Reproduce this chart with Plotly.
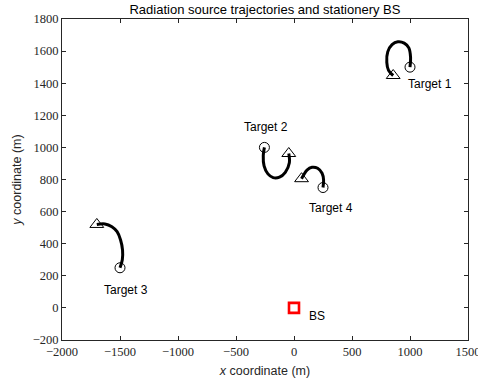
import plotly.graph_objects as go

# Trajectory samples (m) for each radiation source: start -> end
t1_x = [1000, 1005, 990, 950, 895, 845, 808, 800, 815, 855]
t1_y = [1500, 1560, 1620, 1650, 1658, 1640, 1595, 1530, 1480, 1448]

t2_x = [-255, -265, -258, -225, -180, -125, -75, -40, -45]
t2_y = [1000, 950, 885, 835, 812, 815, 845, 905, 962]

t3_x = [-1500, -1480, -1478, -1495, -1525, -1570, -1630, -1700]
t3_y = [250, 300, 360, 423, 475, 506, 523, 520]

t4_x = [250, 255, 242, 204, 155, 112, 83, 65]
t4_y = [750, 797, 839, 870, 876, 859, 828, 805]

trajectories = [(t1_x, t1_y), (t2_x, t2_y), (t3_x, t3_y), (t4_x, t4_y)]

# Base station position
bs_x = [0]
bs_y = [0]

# Text labels and their anchor positions
label_text = ["Target 1", "Target 2", "Target 3", "Target 4", "BS"]
label_x = [965, -445, -1655, 110, 115]
label_y = [1395, 1127, 112, 622, -50]

x_ticks = [-2000, -1500, -1000, -500, 0, 500, 1000, 1500]
y_ticks = [-200, 0, 200, 400, 600, 800, 1000, 1200, 1400, 1600, 1800]

fig = go.Figure()

for tx, ty in trajectories:
    fig.add_trace(go.Scatter(x=tx, y=ty, mode="lines",
                             line=dict(color="black", width=3, shape="spline"),
                             hoverinfo="skip"))
    fig.add_trace(go.Scatter(x=[tx[0]], y=[ty[0]], mode="markers",
                             marker=dict(symbol="circle-open", size=10,
                                         color="black", line=dict(width=1))))
    fig.add_trace(go.Scatter(x=[tx[-1]], y=[ty[-1]], mode="markers",
                             marker=dict(symbol="triangle-up-open", size=12,
                                         color="black", line=dict(width=1))))

fig.add_trace(go.Scatter(x=bs_x, y=bs_y, mode="markers",
                         marker=dict(symbol="square-open", size=10,
                                     color="red", line=dict(width=2.6, color="red"))))

for t, x, y in zip(label_text, label_x, label_y):
    fig.add_annotation(x=x, y=y, text=t, showarrow=False, xanchor="left",
                       yanchor="middle",
                       font=dict(family="Liberation Sans, Arial, sans-serif",
                                 size=12, color="black"))

axis_common = dict(
    showgrid=False, zeroline=False, showline=True, linecolor="#262626",
    linewidth=1, mirror="ticks", ticks="inside", ticklen=4,
    tickcolor="#262626", tickwidth=1, ticklabeloverflow="allow",
    automargin=False,
    tickfont=dict(family="Liberation Serif, serif", size=12.5, color="#262626"),
)

fig.update_xaxes(range=[-2000, 1500], tickvals=x_ticks,
                 title=dict(text="<i>x</i> coordinate (m)", standoff=8,
                            font=dict(family="Liberation Sans, Arial, sans-serif",
                                      size=12.5, color="#262626")),
                 **axis_common)
fig.update_yaxes(range=[-200, 1800], tickvals=y_ticks,
                 title=dict(text="<i>y</i> coordinate (m)", standoff=8,
                            font=dict(family="Liberation Sans, Arial, sans-serif",
                                      size=12.5, color="#262626")),
                 **axis_common)

fig.update_layout(
    width=478, height=385,
    margin=dict(l=62, r=10, t=19, b=45),
    plot_bgcolor="white", paper_bgcolor="white",
    showlegend=False,
    title=dict(text="Radiation source trajectories and stationery BS",
               x=0.5543, xanchor="center", y=1 - 9.5 / 385, yanchor="middle",
               yref="container",
               font=dict(family="Liberation Sans, Arial, sans-serif",
                         size=13, color="black")),
)

fig.write_html("out.html")
